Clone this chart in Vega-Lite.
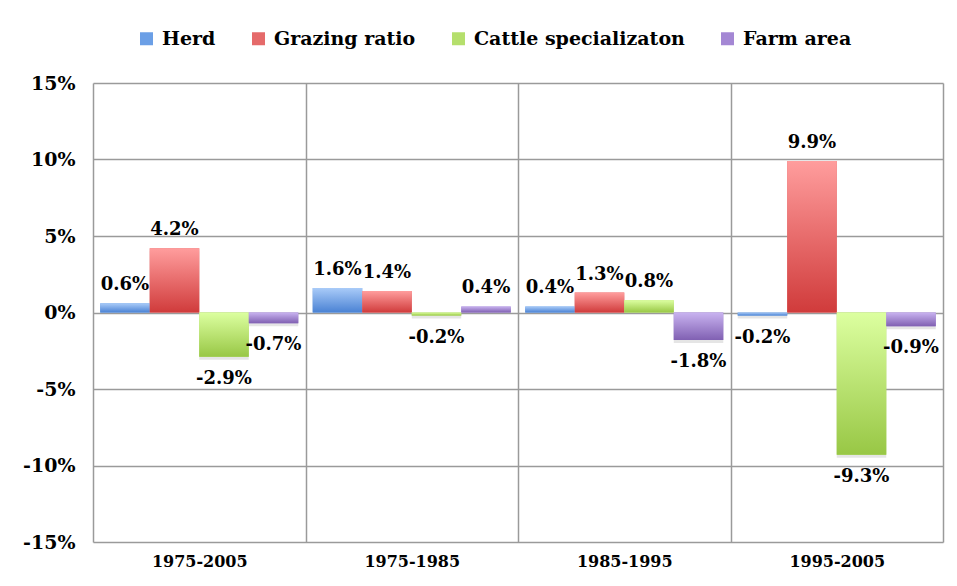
{
  "$schema": "https://vega.github.io/schema/vega-lite/v6.json",
  "width": 850,
  "height": 459,
  "autosize": "none",
  "padding": {"left": 93, "top": 83, "right": 14, "bottom": 44},
  "background": "white",
  "config": {"view": {"stroke": null}},
  "data": {
    "values": [
      {"period": "1975-2005", "series": "Herd", "value": 0.006},
      {"period": "1975-2005", "series": "Grazing ratio", "value": 0.042},
      {"period": "1975-2005", "series": "Cattle specializaton", "value": -0.029},
      {"period": "1975-2005", "series": "Farm area", "value": -0.007},
      {"period": "1975-1985", "series": "Herd", "value": 0.016},
      {"period": "1975-1985", "series": "Grazing ratio", "value": 0.014},
      {"period": "1975-1985", "series": "Cattle specializaton", "value": -0.002},
      {"period": "1975-1985", "series": "Farm area", "value": 0.004},
      {"period": "1985-1995", "series": "Herd", "value": 0.004},
      {"period": "1985-1995", "series": "Grazing ratio", "value": 0.013},
      {"period": "1985-1995", "series": "Cattle specializaton", "value": 0.008},
      {"period": "1985-1995", "series": "Farm area", "value": -0.018},
      {"period": "1995-2005", "series": "Herd", "value": -0.002},
      {"period": "1995-2005", "series": "Grazing ratio", "value": 0.099},
      {"period": "1995-2005", "series": "Cattle specializaton", "value": -0.093},
      {"period": "1995-2005", "series": "Farm area", "value": -0.009}
    ]
  },
  "transform": [
    {"calculate": "replace(format(datum.value, '.1%'), '\u2212', '-')", "as": "label"}
  ],
  "encoding": {
    "x": {
      "field": "period",
      "type": "nominal",
      "sort": ["1975-2005", "1975-1985", "1985-1995", "1995-2005"],
      "scale": {"paddingInner": 0, "paddingOuter": 0},
      "axis": {
        "title": null,
        "labelAngle": 0,
        "grid": true,
        "gridColor": "#9a9a9a",
        "gridWidth": 1.5,
        "tickBand": "extent",
        "ticks": false,
        "domain": false,
        "labelPadding": 11,
        "labelFont": "DejaVu Serif",
        "labelFontWeight": "bold",
        "labelFontSize": 16,
        "labelColor": "#000000"
      }
    },
    "xOffset": {
      "field": "series",
      "type": "nominal",
      "sort": ["Herd", "Grazing ratio", "Cattle specializaton", "Farm area"],
      "scale": {"paddingInner": 0, "paddingOuter": 0.146}
    },
    "y": {
      "field": "value",
      "type": "quantitative",
      "scale": {"domain": [-0.15, 0.15], "nice": false, "zero": false},
      "axis": {
        "title": null,
        "values": [-0.15, -0.1, -0.05, 0, 0.05, 0.1, 0.15],
        "labelExpr": "replace(format(datum.value, '.0%'), '\u2212', '-')",
        "grid": true,
        "gridColor": "#9a9a9a",
        "gridWidth": 1.5,
        "ticks": false,
        "domain": false,
        "labelPadding": 18,
        "labelFont": "DejaVu Serif",
        "labelFontWeight": "bold",
        "labelFontSize": 19,
        "labelColor": "#000000"
      }
    }
  },
  "layer": [
    {
      "mark": {"type": "bar", "color": "#000000", "opacity": 0.1, "xOffset": 2, "yOffset": 3},
      "encoding": {"y2": {"datum": 0}}
    },
    {
      "mark": {"type": "bar"},
      "encoding": {
        "y2": {"datum": 0},
        "color": {
          "field": "series",
          "type": "nominal",
          "sort": ["Herd", "Grazing ratio", "Cattle specializaton", "Farm area"],
          "scale": {
            "domain": ["Herd", "Grazing ratio", "Cattle specializaton", "Farm area"],
            "range": ["#6b9fe6", "#e56a6a", "#b5df6c", "#a487d4"]
          },
          "legend": {
            "title": null,
            "orient": "none",
            "direction": "horizontal",
            "legendX": 44,
            "legendY": -54,
            "symbolType": "square",
            "symbolSize": 169,
            "symbolStrokeWidth": 0,
            "symbolOpacity": 1,
            "labelOffset": 6,
            "columnPadding": 33,
            "labelFont": "DejaVu Serif",
            "labelFontWeight": "bold",
            "labelFontSize": 19,
            "labelColor": "#000000",
            "labelLimit": 400
          }
        }
      }
    },
    {
      "transform": [{"filter": "datum.series === 'Herd'"}],
      "mark": {
        "type": "bar",
        "fill": {"gradient": "linear", "x1": 0, "y1": 0, "x2": 0, "y2": 1,
          "stops": [{"offset": 0, "color": "#a9cbf8"}, {"offset": 1, "color": "#4a82d4"}]}
      },
      "encoding": {"y2": {"datum": 0}}
    },
    {
      "transform": [{"filter": "datum.series === 'Grazing ratio'"}],
      "mark": {
        "type": "bar",
        "fill": {"gradient": "linear", "x1": 0, "y1": 0, "x2": 0, "y2": 1,
          "stops": [{"offset": 0, "color": "#ff9d9d"}, {"offset": 1, "color": "#d03b3b"}]}
      },
      "encoding": {"y2": {"datum": 0}}
    },
    {
      "transform": [{"filter": "datum.series === 'Cattle specializaton'"}],
      "mark": {
        "type": "bar",
        "fill": {"gradient": "linear", "x1": 0, "y1": 0, "x2": 0, "y2": 1,
          "stops": [{"offset": 0, "color": "#dcffa0"}, {"offset": 1, "color": "#98c745"}]}
      },
      "encoding": {"y2": {"datum": 0}}
    },
    {
      "transform": [{"filter": "datum.series === 'Farm area'"}],
      "mark": {
        "type": "bar",
        "fill": {"gradient": "linear", "x1": 0, "y1": 0, "x2": 0, "y2": 1,
          "stops": [{"offset": 0, "color": "#c9b3f0"}, {"offset": 1, "color": "#8060b2"}]}
      },
      "encoding": {"y2": {"datum": 0}}
    },
    {
      "transform": [{"filter": "datum.value >= 0"}],
      "mark": {"type": "text", "baseline": "alphabetic", "dy": -13, "font": "DejaVu Serif", "fontWeight": "bold", "fontSize": 18, "color": "#000000"},
      "encoding": {"text": {"field": "label"}}
    },
    {
      "transform": [{"filter": "datum.value < 0"}],
      "mark": {"type": "text", "baseline": "top", "dy": 13, "font": "DejaVu Serif", "fontWeight": "bold", "fontSize": 18, "color": "#000000"},
      "encoding": {"text": {"field": "label"}}
    }
  ]
}
